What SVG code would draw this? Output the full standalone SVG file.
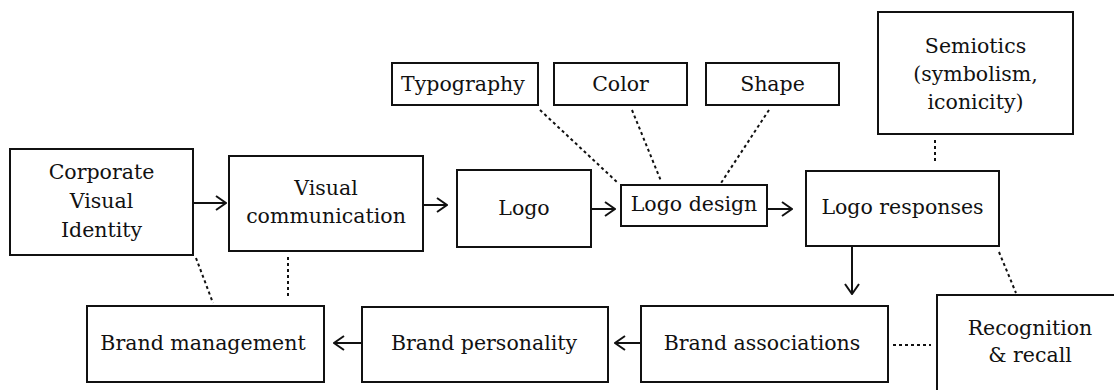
<svg xmlns="http://www.w3.org/2000/svg" width="1114" height="390" viewBox="0 0 1114 390">
<style>
.box{fill:#fff;stroke:#111;stroke-width:2}
.t{font-family:"DejaVu Serif","Liberation Serif",serif;font-size:20.5px;fill:#111;text-anchor:middle}
.arr{stroke:#111;stroke-width:2;fill:none;marker-end:url(#ah)}
.dot{stroke:#111;stroke-width:2;fill:none;stroke-dasharray:3 3}
</style>
<defs>
<marker id="ah" markerUnits="userSpaceOnUse" markerWidth="12" markerHeight="16" refX="11" refY="8" orient="auto" viewBox="0 0 12 16">
<path d="M1,1 L11,8 L1,15" fill="none" stroke="#111" stroke-width="2"/>
</marker>
</defs>
<rect width="1114" height="390" fill="#fff"/>
<g id="connectors">
<line class="arr" x1="193" y1="203" x2="226" y2="203"/>
<line class="arr" x1="423" y1="205" x2="447" y2="205"/>
<line class="arr" x1="591" y1="209" x2="615" y2="209"/>
<line class="arr" x1="767" y1="209" x2="792" y2="209"/>
<line class="arr" x1="852" y1="247" x2="852" y2="294"/>
<line class="arr" x1="641" y1="343" x2="615" y2="343"/>
<line class="arr" x1="362" y1="343" x2="334" y2="343"/>
<line class="dot" x1="540" y1="110" x2="618" y2="183"/>
<line class="dot" x1="632" y1="110" x2="661" y2="181"/>
<line class="dot" x1="769" y1="110" x2="721" y2="183"/>
<line class="dot" x1="935" y1="140" x2="935" y2="164"/>
<line class="dot" x1="999" y1="252" x2="1016" y2="293"/>
<line class="dot" x1="893" y1="345" x2="931" y2="345"/>
<line class="dot" x1="196" y1="258" x2="213" y2="303"/>
<line class="dot" x1="288" y1="257" x2="288" y2="299"/>
</g>
<g id="corporate-visual-identity">
<rect class="box" x="10" y="149" width="183" height="106"/>
<text class="t" x="101.5" y="179">Corporate</text>
<text class="t" x="101.5" y="208">Visual</text>
<text class="t" x="101.5" y="237">Identity</text>
</g>
<g id="visual-communication">
<rect class="box" x="229" y="156" width="194" height="95"/>
<text class="t" x="326" y="195">Visual</text>
<text class="t" x="326" y="223">communication</text>
</g>
<g id="logo">
<rect class="box" x="457" y="170" width="134" height="77"/>
<text class="t" x="524" y="215">Logo</text>
</g>
<g id="logo-design">
<rect class="box" x="621" y="185" width="146" height="41"/>
<text class="t" x="694" y="211">Logo design</text>
</g>
<g id="typography">
<rect class="box" x="392" y="63" width="146" height="42"/>
<text class="t" x="463" y="91">Typography</text>
</g>
<g id="color">
<rect class="box" x="554" y="63" width="133" height="42"/>
<text class="t" x="620.5" y="91">Color</text>
</g>
<g id="shape">
<rect class="box" x="706" y="63" width="133" height="42"/>
<text class="t" x="772.5" y="91">Shape</text>
</g>
<g id="semiotics">
<rect class="box" x="878" y="12" width="195" height="122"/>
<text class="t" x="975.5" y="53">Semiotics</text>
<text class="t" x="975.5" y="81">(symbolism,</text>
<text class="t" x="975.5" y="109">iconicity)</text>
</g>
<g id="logo-responses">
<rect class="box" x="806" y="171" width="193" height="75"/>
<text class="t" x="902.5" y="214">Logo responses</text>
</g>
<g id="recognition-recall">
<rect class="box" x="937" y="295" width="200" height="110"/>
<text class="t" x="1030" y="335">Recognition</text>
<text class="t" x="1030" y="362">&amp; recall</text>
</g>
<g id="brand-associations">
<rect class="box" x="641" y="306" width="247" height="76"/>
<text class="t" x="762" y="350">Brand associations</text>
</g>
<g id="brand-personality">
<rect class="box" x="362" y="307" width="246" height="75"/>
<text class="t" x="484" y="350">Brand personality</text>
</g>
<g id="brand-management">
<rect class="box" x="87" y="306" width="237" height="76"/>
<text class="t" x="203" y="350">Brand management</text>
</g>
</svg>
